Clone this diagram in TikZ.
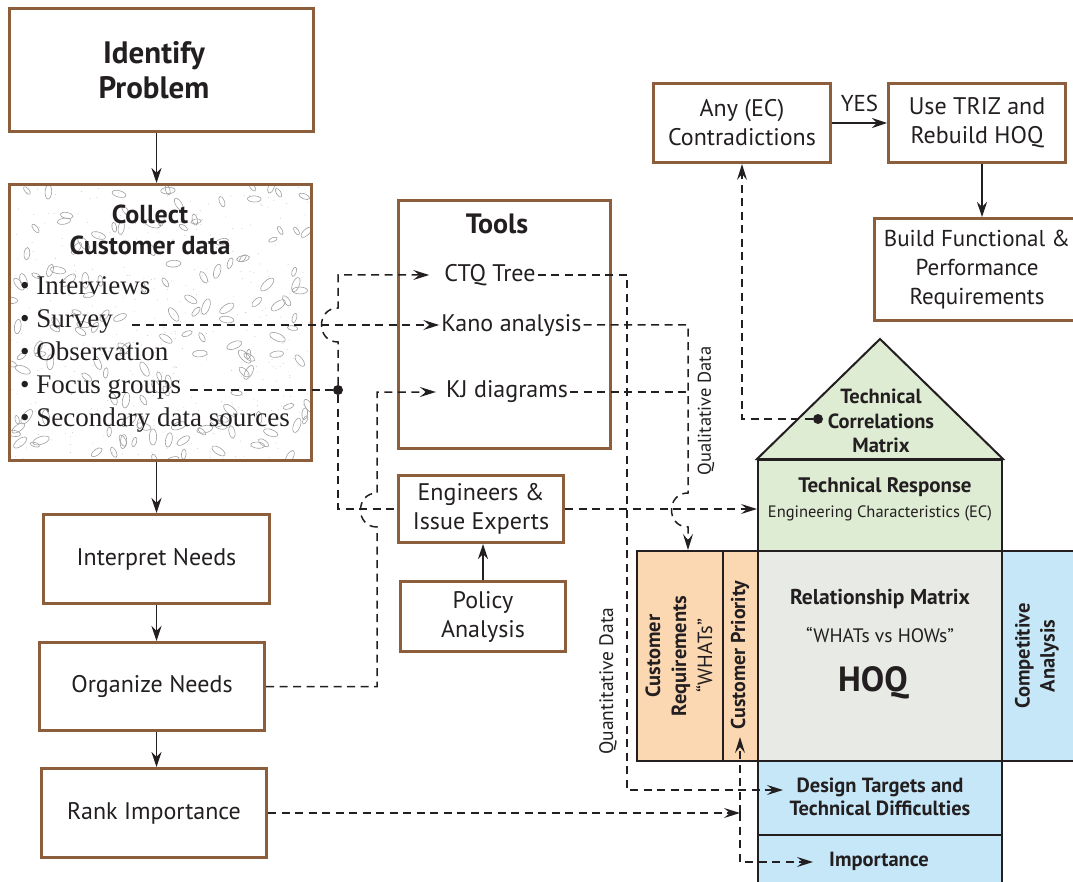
\documentclass[tikz,border=0pt]{standalone}
\usepackage{fontspec}
\setmainfont{PT Sans}
\newfontfamily\bulletfont{Liberation Serif}
\usetikzlibrary{arrows.meta}
\definecolor{boxbrown}{RGB}{140,94,60}
\definecolor{inkdark}{RGB}{35,31,32}
\definecolor{roofgreen}{RGB}{223,236,212}
\definecolor{reqpeach}{RGB}{251,215,178}
\definecolor{matgrey}{RGB}{232,234,230}
\definecolor{hoqblue}{RGB}{198,231,248}
\definecolor{speckle}{RGB}{160,160,160}
\newcommand\sz[2]{\fontsize{#1}{#2}\selectfont}

\tikzset{
  flowbox/.style={draw=boxbrown, line width=3pt, fill=white, align=center,
    inner sep=0pt, text=inkdark, font=\sz{24}{29}},
  hoqcell/.style={draw=inkdark, line width=2pt, inner sep=0pt},
  flowarrow/.style={draw=inkdark, line width=1.5pt,
    -{Stealth[length=15pt,width=10pt,inset=5pt]}},
  dataline/.style={draw=inkdark, line width=1.5pt, dash pattern=on 8pt off 5.5pt},
  dataarrow/.style={dataline, -{Stealth[length=16pt,width=10pt,inset=6pt]}},
  bigdot/.style={circle, fill=inkdark, inner sep=0pt, minimum size=10pt},
  bullet/.style={anchor=base west, inner sep=0pt, text=inkdark,
    font=\bulletfont\sz{27}{30}},
  toolitem/.style={text=inkdark, inner sep=2pt, font=\sz{24}{28}},
  hoqtext/.style={text=inkdark, inner sep=0pt, align=center},
}

\begin{document}
\begin{tikzpicture}[x=1pt, y=-1pt]
  \useasboundingbox (0,0) rectangle (1073,882);
  \clip (0,0) rectangle (1073,882);

  % speckled paper behind the customer data box
  \begin{scope}
    \clip (10,184) rectangle (312,461);
    \pgfmathsetseed{1234}
    \foreach \k in {1,...,380}
      \fill[speckle!60] (10+rnd*302,184+rnd*277) circle (0.5pt);
    \foreach \k in {1,...,150}{
      \pgfmathsetmacro\ex{10+rnd*302}
      \pgfmathsetmacro\ey{184+rnd*277}
      \pgfmathsetmacro\ea{4.5+rnd*4}
      \pgfmathsetmacro\er{rnd*180}
      \draw[speckle, line width=0.6pt, rotate around={\er:(\ex,\ey)}]
        (\ex,\ey) ellipse [x radius=\ea, y radius=0.45*\ea];
    }
  \end{scope}

  % left column
  \node[flowbox, minimum width=304pt, minimum height=123pt] (ident) at (161.5,70) {};
  \node[text=inkdark, align=center, font=\bfseries\sz{31}{35}] (identT)
    at (154,70) {Identify\\Problem};
  \node[flowbox, fill=none, minimum width=302pt, minimum height=276pt]
    (collect) at (160.5,322.5) {};
  \node[text=inkdark, align=center, font=\bfseries\sz{26}{31}] (collecthead)
    at (150,230) {Collect\\Customer data};
  \node[bullet] (interviews) at (20,295) {• Interviews};
  \node[bullet] (survey) at (20,328) {• Survey};
  \node[bullet] (observation) at (20,360) {• Observation};
  \node[bullet] (focus) at (20,393) {• Focus groups};
  \node[bullet] (secondary) at (20,426) {• Secondary data sources};

  \node[flowbox, minimum width=226pt, minimum height=89pt] (interp) at (156.5,559) {Interpret Needs};
  \node[flowbox, minimum width=225pt, minimum height=88pt] (org) at (152,686.5) {Organize Needs};
  \node[flowbox, minimum width=225pt, minimum height=89pt] (rank) at (154,813) {Rank Importance};

  \draw[flowarrow] (ident.south -| interp.north) -- (collect.north -| interp.north);
  \draw[flowarrow] (collect.south -| interp.north) -- (interp.north);
  \draw[flowarrow] (interp.south) -- (interp.south |- org.north);
  \draw[flowarrow] (org.south -| interp.south) -- (rank.north -| interp.south);

  % tools and experts
  \node[flowbox, minimum width=212pt, minimum height=248pt] (tools) at (504.5,324.5) {};
  \node[text=inkdark, font=\bfseries\sz{28}{32}] (toolshead) at (497,224) {Tools};
  \node[toolitem] (ctq) at (490,275) {CTQ Tree};
  \node[toolitem] (kano) at (511.5,325) {Kano analysis};
  \node[toolitem] (kj) at (507,392) {KJ diagrams};
  \node[flowbox, minimum width=165pt, minimum height=67pt] (eng) at (481,509) {Engineers \&\\Issue Experts};
  \node[flowbox, minimum width=165pt, minimum height=70pt] (policy) at (483,616.5) {Policy\\Analysis};
  \draw[flowarrow] (policy.north) -- (policy.north |- eng.south);

  % contradiction loop
  \node[flowbox, minimum width=177pt, minimum height=79pt] (any) at (742,123) {Any (EC)\\Contradictions};
  \node[flowbox, minimum width=177pt, minimum height=79pt] (triz) at (977,123) {Use TRIZ and\\Rebuild HOQ};
  \node[flowbox, minimum width=215pt, minimum height=102pt] (build) at (982,269.5) {};
  \node[text=inkdark, align=center, font=\sz{23}{29}] (buildT) at (977,269.5)
    {Build Functional \&\\Performance\\Requirements};
  \draw[flowarrow] (any) -- node[above=7pt, text=inkdark, font=\sz{23}{26}] (yes) {YES} (triz);
  \draw[flowarrow] (triz.south -| build.north) -- (build.north);

  % house of quality
  \node[hoqcell, fill=roofgreen, minimum width=244pt, minimum height=91pt] (tresp) at (880,505.5) {};
  \coordinate (roofapex) at (880,339);
  \draw[draw=inkdark, line width=2pt, fill=roofgreen]
    (tresp.north west) -- (roofapex) -- (tresp.north east) -- cycle;
  \node[hoqcell, fill=reqpeach, minimum width=86pt, minimum height=210pt] (creq) at (680,656) {};
  \node[hoqcell, fill=reqpeach, minimum width=35pt, minimum height=210pt] (cprio) at (740.5,656) {};
  \node[hoqcell, fill=matgrey, minimum width=244pt, minimum height=210pt] (relm) at (880,656) {};
  \node[hoqcell, fill=hoqblue, minimum width=108pt, minimum height=210pt] (comp) at (1056,656) {};
  \node[hoqcell, fill=hoqblue, minimum width=244pt, minimum height=74pt] (design) at (880,798) {};
  \node[hoqcell, fill=hoqblue, minimum width=244pt, minimum height=70pt] (imp) at (880,870) {};

  \node[hoqtext, font=\bfseries\sz{20.5}{24.5}] (roofT) at (881,421) {Technical\\Correlations\\Matrix};
  \node[hoqtext, font=\bfseries\sz{21}{24}] (trespT) at (885,487) {Technical Response};
  \node[hoqtext, font=\sz{16.5}{19}] (ecT) at (880,513) {Engineering Characteristics (EC)};
  \node[hoqtext, font=\bfseries\sz{21.5}{25}] (relmT) at (880,599) {Relationship Matrix};
  \node[hoqtext, font=\sz{19.5}{23}] (whatsT) at (880,635) {“WHATs vs HOWs”};
  \node[hoqtext, font=\bfseries\sz{35}{40}] (hoqT) at (873,683) {HOQ};
  \node[hoqtext, rotate=90, font=\sz{20.5}{26}] (creqT) at (679,656)
    {\textbf{Customer}\\\textbf{Requirements}\\“WHATs”};
  \node[hoqtext, rotate=90, font=\bfseries\sz{20}{24}] (cprioT) at (740,655) {Customer Priority};
  \node[hoqtext, rotate=90, font=\bfseries\sz{20.5}{25}] (compT) at (1037,656) {Competitive\\Analysis};
  \node[hoqtext, font=\bfseries\sz{20.5}{23}] (designT) at (880,797) {Design Targets and\\Technical Difficulties};
  \node[hoqtext, font=\bfseries\sz{20.5}{24}] (impT) at (879,861) {Importance};

  % data flows
  \coordinate (surveyout) at (132,325);
  \coordinate (focusout) at (190,390);
  \node[bigdot] (fdot) at (338,390) {};
  \coordinate (hopSlo) at (338,342);
  \coordinate (hopShi) at (338,308);
  \draw[dataarrow] (surveyout) -- (kano.west);
  \draw[dataline] (focusout) -- (fdot);
  \draw[dataarrow, shorten >=13pt] (fdot) -- (hopSlo)
    .. controls +(-22,0) and +(-22,0) .. (hopShi) |- (ctq.west);
  \draw[dataline] (fdot) |- (eng.west);
  \draw[dataarrow] (eng.east) -- (eng.east -| tresp.west);

  \coordinate (hopOlo) at (377,527);
  \coordinate (hopOhi) at (377,493);
  \draw[dataarrow, shorten >=8pt] (org.east) -| (hopOlo)
    .. controls +(-22,0) and +(-22,0) .. (hopOhi) |- (kj.west);

  \coordinate (hopQhi) at (688,493);
  \coordinate (hopQlo) at (688,527);
  \draw[dataarrow] (kano.east) -| (hopQhi)
    .. controls +(-22,0) and +(-22,0) .. (hopQlo) -- (hopQlo |- creq.north);
  \draw[dataline] (kj.east) -- (kj.east -| hopQhi);
  \node[rotate=90, text=inkdark, font=\sz{18.5}{21}] (qualT) at (706,411) {Qualitative Data};

  \coordinate (quantbend) at (627,790);
  \coordinate (designin) at (783,790);
  \draw[dataarrow] (ctq.east) -| (quantbend) -- (designin);
  \node[rotate=90, text=inkdark, font=\sz{19.5}{22}] (quantT) at (608,681) {Quantitative Data};

  \coordinate (rankjoin) at (740,813);
  \coordinate (prioin) at (740,737);
  \coordinate (impin) at (813,862);
  \draw[dataarrow] (rank.east) -- (rankjoin);
  \draw[dataarrow] (rankjoin) -- (prioin);
  \draw[dataarrow] (rankjoin) |- (impin);

  \node[bigdot] (tcdot) at (818,419) {};
  \draw[dataarrow] (tcdot) -| (any.south);
\end{tikzpicture}
\end{document}
